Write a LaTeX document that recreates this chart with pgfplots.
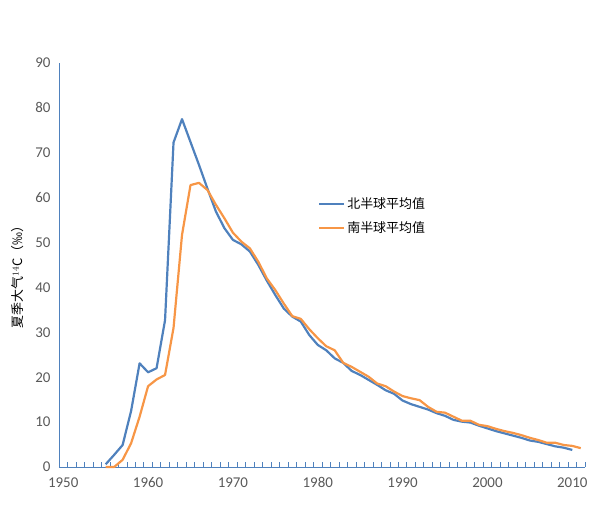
\documentclass[border=0pt]{standalone}
\usepackage{pgfplots}
\pgfplotsset{compat=1.18}
\usepackage{fontspec}
\setmainfont{Carlito}
\newfontfamily\cjk{Noto Sans CJK SC}
\definecolor{nblue}{HTML}{4F81BD}
\definecolor{sorange}{HTML}{F79646}
\definecolor{axblue}{HTML}{4F81BD}
\definecolor{lblgray}{RGB}{89,89,89}
\begin{document}
\begin{tikzpicture}
\path[use as bounding box] (-59bp,-38bp) rectangle (539bp,467bp);
\begin{axis}[
  at={(0,0)}, anchor=south west,
  scale only axis, width=526bp, height=404bp,
  xmin=1949.5, xmax=2011.5, ymin=0, ymax=90,
  axis x line*=bottom, axis y line*=left,
  axis line style={axblue, line width=0.9bp, -},
  clip=false,
  xtick={1950,1960,...,2010},
  major x tick style={draw=none},
  minor xtick={1949.5,1950.5,...,2011.5},
  minor x tick style={axblue, line width=0.7bp},
  minor tick length=5bp,
  tick align=inside,
  ytick={0,10,...,90},
  major y tick style={draw=none},
  xticklabel style={font=\fontsize{15}{17}\selectfont, text=lblgray},
  yticklabel style={font=\fontsize{15}{17}\selectfont, text=lblgray},
  xticklabel={\pgfmathprintnumber[fixed,1000 sep={},precision=0]{\tick}},
  /pgf/number format/assume math mode=true,
  /pgf/number format/1000 sep={},
  x tick label style={yshift=-7bp},
  y tick label style={xshift=-5bp},
  legend style={at={(0.487,0.676)}, anchor=north west, draw=none, fill=none,
    font=\cjk\fontsize{13}{15}\selectfont, text=black, row sep=7bp,
    legend cell align=left},
  legend image code/.code={\draw[#1, line width=2bp] (0bp,0bp) -- (25bp,0bp);},
]
\addplot[nblue, line width=2.2bp, line join=round] table {
1955 0.6
1956 2.7
1957 4.9
1958 12.5
1959 23.1
1960 21.1
1961 22.0
1962 32.7
1963 72.3
1964 77.5
1965 72.4
1966 67.3
1967 62.0
1968 56.9
1969 53.2
1970 50.6
1971 49.6
1972 48.0
1973 45.0
1974 41.5
1975 38.3
1976 35.3
1977 33.5
1978 32.4
1979 29.4
1980 27.2
1981 26.0
1982 24.2
1983 23.2
1984 21.4
1985 20.5
1986 19.4
1987 18.3
1988 17.1
1989 16.3
1990 14.8
1991 14.0
1992 13.4
1993 12.8
1994 12.0
1995 11.4
1996 10.5
1997 10.1
1998 9.9
1999 9.2
2000 8.6
2001 8.0
2002 7.5
2003 7.0
2004 6.5
2005 5.9
2006 5.6
2007 5.1
2008 4.6
2009 4.3
2010 3.8
};
\addlegendentry{北半球平均值}
\addplot[sorange, line width=2.2bp, line join=round] table {
1955 0
1956 0
1957 1.6
1958 5.3
1959 11.2
1960 18.0
1961 19.5
1962 20.5
1963 31.0
1964 51.7
1965 62.8
1966 63.3
1967 61.7
1968 58.4
1969 55.4
1970 52.2
1971 50.2
1972 48.7
1973 45.7
1974 42.0
1975 39.4
1976 36.4
1977 33.6
1978 33.0
1979 30.7
1980 28.7
1981 26.9
1982 26.0
1983 23.2
1984 22.3
1985 21.2
1986 20.1
1987 18.6
1988 18.0
1989 16.8
1990 15.8
1991 15.3
1992 14.9
1993 13.4
1994 12.3
1995 12.1
1996 11.2
1997 10.3
1998 10.3
1999 9.4
2000 9.1
2001 8.5
2002 8.0
2003 7.6
2004 7.1
2005 6.5
2006 6.0
2007 5.4
2008 5.4
2009 4.9
2010 4.7
2011 4.2
};
\addlegendentry{南半球平均值}
\node[rotate=90, anchor=center, font=\cjk\fontsize{13}{15}\selectfont, text=black]
  at (axis description cs:-0.078,0.478) {夏季大气$^{14}$C（‰）};
\end{axis}
\end{tikzpicture}
\end{document}
